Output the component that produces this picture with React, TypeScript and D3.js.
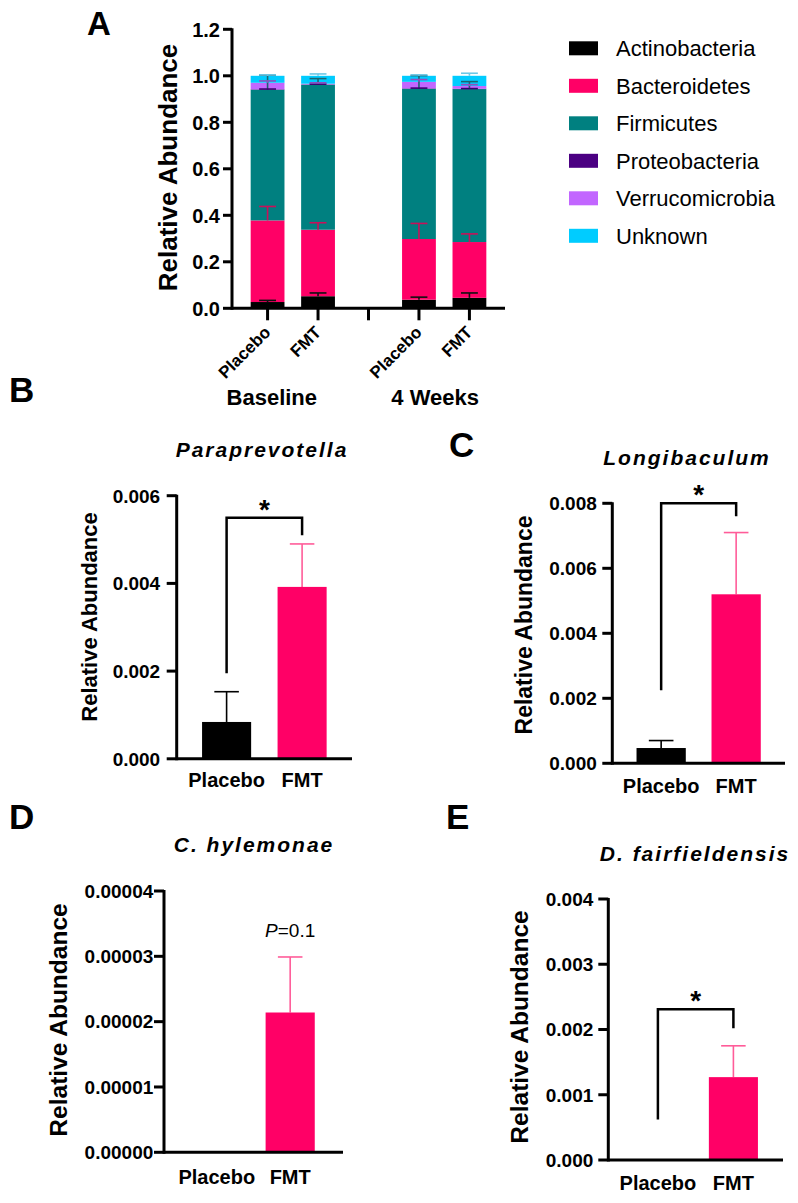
import React from 'react';
import * as d3 from 'd3';

const FONT = "'Liberation Sans', Arial, Helvetica, sans-serif";

// ---------- Panel A data ----------
const phyla = ['Actinobacteria', 'Bacteroidetes', 'Firmicutes', 'Proteobacteria', 'Verrucomicrobia', 'Unknown'];
const phylumColors = ['#000000', '#ff0066', '#008080', '#4b0082', '#c266ff', '#00ccff'];
const phylumErrColors = ['#111111', '#c8105a', '#1d6470', '#3a0070', '#8e4fc0', '#6cc8e6'];
const groupsA = ['Placebo', 'FMT', 'Placebo', 'FMT'];
const timepoints = ['Baseline', '4 Weeks'];
const slotsA = ['Baseline-Placebo', 'Baseline-FMT', 'gap', '4 Weeks-Placebo', '4 Weeks-FMT'];
const dataSlotsA = ['Baseline-Placebo', 'Baseline-FMT', '4 Weeks-Placebo', '4 Weeks-FMT'];

const actinobacteria = [0.027, 0.052, 0.037, 0.045];
const bacteroidetes = [0.351, 0.286, 0.261, 0.24];
const firmicutes = [0.562, 0.624, 0.646, 0.658];
const proteobacteria = [0.002, 0.001, 0.002, 0.001];
const verrucomicrobia = [0.028, 0.003, 0.028, 0.012];
const unknown = [0.03, 0.034, 0.026, 0.044];

const actinobacteriaSD = [0.007, 0.014, 0.011, 0.021];
const bacteroidetesSD = [0.06, 0.03, 0.067, 0.035];
const firmicutesSD = [0.063, 0.026, 0.057, 0.032];
const proteobacteriaSD = [0.001, 0.001, 0.001, 0.001];
const verrucomicrobiaSD = [0.008, 0.004, 0.01, 0.006];
const unknownSD = [0.004, 0.008, 0.004, 0.011];

const ticksA = [0, 0.2, 0.4, 0.6, 0.8, 1.0, 1.2];

// ---------- Panels B-E data ----------
const groups = ['Placebo', 'FMT'];
const groupColors = ['#000000', '#ff0066'];
const groupErrColors = ['#000000', '#ff5c99'];

const paraprevotellaMean = [0.00084, 0.00392];
const paraprevotellaSD = [0.00069, 0.00098];
const paraprevotellaBracket = [0.00195, 0.0055, 0.0051];
const ticksB = [0, 0.002, 0.004, 0.006];

const longibaculumMean = [0.00047, 0.0052];
const longibaculumSD = [0.00023, 0.0019];
const longibaculumBracket = [0.00225, 0.008, 0.0076];
const ticksC = [0, 0.002, 0.004, 0.006, 0.008];

const hylemonaeMean = [0, 0.0000214];
const hylemonaeSD = [0, 0.0000085];
const ticksD = [0, 0.00001, 0.00002, 0.00003, 0.00004];

const fairfieldensisMean = [0, 0.00127];
const fairfieldensisSD = [0, 0.00048];
const fairfieldensisBracket = [0.00062, 0.00231, 0.00202];
const ticksE = [0, 0.001, 0.002, 0.003, 0.004];

const AXIS_W = 3;

function PanelA() {
  const x = d3.scaleBand().domain(slotsA).range([232, 505]).paddingInner(0.33).paddingOuter(0.37);
  const y = d3.scaleLinear().domain([0, 1.2]).range([308.3, 29.3]);
  const seriesValues = [actinobacteria, bacteroidetes, firmicutes, proteobacteria, verrucomicrobia, unknown];
  const seriesSD = [actinobacteriaSD, bacteroidetesSD, firmicutesSD, proteobacteriaSD, verrucomicrobiaSD, unknownSD];
  const rows = dataSlotsA.map((s, i) => {
    const r: any = { slot: s };
    phyla.forEach((p, k) => (r[p] = seriesValues[k][i]));
    return r;
  });
  const stacked = d3.stack().keys(phyla)(rows);
  const bw = x.bandwidth();
  const y0 = y(0);
  const cx = (s: string) => (x(s) as number) + bw / 2;
  return (
    <g>
      <text x={87} y={35} fontSize={33} fontWeight="bold" fontFamily={FONT}>A</text>
      {stacked.map((layer, k) => (
        <g key={phyla[k]} fill={phylumColors[k]}>
          {layer.map((d, i) => (
            <rect key={i} x={x(dataSlotsA[i])} width={bw} y={y(d[1])} height={Math.max(0, y(d[0]) - y(d[1]))} />
          ))}
        </g>
      ))}
      {stacked.map((layer, k) => (
        <g key={'e' + phyla[k]} stroke={phylumErrColors[k]} strokeWidth={1.6}>
          {layer.map((d, i) => {
            const c = cx(dataSlotsA[i]);
            const top = y(d[1] + seriesSD[k][i]);
            return (
              <g key={i}>
                <line x1={c} x2={c} y1={y(d[1])} y2={top} />
                <line x1={c - bw / 4} x2={c + bw / 4} y1={top} y2={top} />
              </g>
            );
          })}
        </g>
      ))}
      <g stroke="#000" strokeWidth={AXIS_W} fill="none">
        <line x1={232} x2={232} y1={y(1.2) - 1} y2={y0 + 1.5} />
        <line x1={232} x2={505} y1={y0} y2={y0} />
        {ticksA.map((t) => (
          <line key={t} x1={223} x2={232} y1={y(t)} y2={y(t)} />
        ))}
        {slotsA.map((s) => (
          <line key={s} x1={cx(s)} x2={cx(s)} y1={y0} y2={y0 + 12} />
        ))}
      </g>
      {ticksA.map((t) => (
        <text key={t} x={220} y={y(t)} dy="0.36em" textAnchor="end" fontSize={20} fontWeight="bold" fontFamily={FONT}>
          {t.toFixed(1)}
        </text>
      ))}
      {dataSlotsA.map((s, i) => (
        <text key={s} transform={`translate(${cx(s) + 4},${y0 + 25}) rotate(-45)`} textAnchor="end" fontSize={17} fontWeight="bold" fontFamily={FONT}>
          {groupsA[i]}
        </text>
      ))}
      {timepoints.map((tp, j) => {
        const mid = (cx(dataSlotsA[j * 2]) + cx(dataSlotsA[j * 2 + 1])) / 2;
        const off = j === 0 ? -21 : -9;
        return (
          <text key={tp} x={mid + off} y={405} textAnchor="middle" fontSize={22} fontWeight="bold" fontFamily={FONT}>
            {tp}
          </text>
        );
      })}
      <text transform={`translate(177,167.5) rotate(-90)`} textAnchor="middle" fontSize={26} fontWeight="bold" fontFamily={FONT}>
        Relative Abundance
      </text>
      {phyla.map((p, k) => {
        const cy = 48.3 + k * 37.5;
        return (
          <g key={p}>
            <rect x={569} y={cy - 7} width={29} height={14} fill={phylumColors[k]} />
            <text x={616} y={cy + 8} fontSize={22} fontFamily={FONT}>{p}</text>
          </g>
        );
      })}
    </g>
  );
}

type PanelProps = {
  letter: string; letterX: number; letterY: number;
  title: string; titleX: number; titleY: number; titleSpacing: number;
  axisX: number; axisEnd: number; yZero: number; yTop: number; max: number;
  ticks: number[]; decimals: number; labelGap: number;
  ylabelX: number; ylabelY: number; ylabelSize: number;
  xLabelY: number; pi: number; po: number;
  means: number[]; sds: number[];
  bracket?: number[];
  note?: boolean;
};

function Panel(p: PanelProps) {
  const x = d3.scaleBand().domain(groups).range([p.axisX, p.axisEnd]).paddingInner(p.pi).paddingOuter(p.po);
  const y = d3.scaleLinear().domain([0, p.max]).range([p.yZero, p.yTop]);
  const bw = x.bandwidth();
  const cx = (g: string) => (x(g) as number) + bw / 2;
  const capW = bw / 2;
  return (
    <g>
      <text x={p.letterX} y={p.letterY} fontSize={35} fontWeight="bold" fontFamily={FONT}>{p.letter}</text>
      <text x={p.titleX} y={p.titleY} textAnchor="middle" fontSize={21} fontWeight="bold" fontStyle="italic" letterSpacing={p.titleSpacing} fontFamily={FONT}>
        {p.title}
      </text>
      {groups.map((g, i) => (
        <g key={g}>
          {p.means[i] > 0 && (
            <g stroke={groupErrColors[i]} strokeWidth={1.6}>
              <line x1={cx(g)} x2={cx(g)} y1={y(p.means[i])} y2={y(p.means[i] + p.sds[i])} />
              <line x1={cx(g) - capW / 2} x2={cx(g) + capW / 2} y1={y(p.means[i] + p.sds[i])} y2={y(p.means[i] + p.sds[i])} />
            </g>
          )}
          <rect x={x(g)} width={bw} y={y(p.means[i])} height={y(0) - y(p.means[i])} fill={groupColors[i]} />
        </g>
      ))}
      {p.bracket && (
        <g>
          <path
            d={`M${cx('Placebo')},${y(p.bracket[0])}V${y(p.bracket[1])}H${cx('FMT')}V${y(p.bracket[2])}`}
            fill="none" stroke="#000" strokeWidth={2.5}
          />
          <text x={(cx('Placebo') + cx('FMT')) / 2} y={y(p.bracket[1]) + 1} textAnchor="middle" fontSize={28} fontWeight="bold" fontFamily={FONT}>*</text>
        </g>
      )}
      {p.note && (
        <text x={cx('FMT')} y={y(p.means[1] + p.sds[1]) - 20} textAnchor="middle" fontSize={19} fontFamily={FONT}>
          <tspan fontStyle="italic">P</tspan>=0.1
        </text>
      )}
      <g stroke="#000" strokeWidth={AXIS_W} fill="none">
        <line x1={p.axisX} x2={p.axisX} y1={p.yTop - 1} y2={p.yZero + 1.5} />
        <line x1={p.axisX} x2={p.axisEnd} y1={p.yZero} y2={p.yZero} />
        {p.ticks.map((t) => (
          <line key={t} x1={p.axisX - 10} x2={p.axisX} y1={y(t)} y2={y(t)} />
        ))}
      </g>
      {p.ticks.map((t) => (
        <text key={t} x={p.axisX - p.labelGap} y={y(t)} dy="0.36em" textAnchor="end" fontSize={19} fontWeight="bold" fontFamily={FONT}>
          {t.toFixed(p.decimals)}
        </text>
      ))}
      {groups.map((g) => (
        <text key={g} x={cx(g)} y={p.xLabelY} textAnchor="middle" fontSize={20} fontWeight="bold" fontFamily={FONT}>{g}</text>
      ))}
      <text transform={`translate(${p.ylabelX},${p.ylabelY}) rotate(-90)`} textAnchor="middle" fontSize={p.ylabelSize} fontWeight="bold" fontFamily={FONT}>
        Relative Abundance
      </text>
    </g>
  );
}

export default function App() {
  return (
    <svg width={798} height={1203} style={{ position: 'absolute', left: 0, top: 0, background: '#fff' }}>
      <rect width={798} height={1203} fill="#fff" />
      <PanelA />
      <Panel
        letter="B" letterX={9} letterY={402}
        title="Paraprevotella" titleX={262} titleY={457} titleSpacing={2}
        axisX={176.7} axisEnd={352} yZero={758.8} yTop={495.7} max={0.006}
        ticks={ticksB} decimals={3} labelGap={16.5}
        ylabelX={97} ylabelY={617} ylabelSize={22}
        xLabelY={787} pi={0.35} po={0.336}
        means={paraprevotellaMean} sds={paraprevotellaSD} bracket={paraprevotellaBracket}
      />
      <Panel
        letter="C" letterX={449} letterY={457}
        title="Longibaculum" titleX={687} titleY={465} titleSpacing={2}
        axisX={612.3} axisEnd={785} yZero={763.3} yTop={503.3} max={0.008}
        ticks={ticksC} decimals={3} labelGap={15.5}
        ylabelX={532} ylabelY={625} ylabelSize={23}
        xLabelY={793} pi={0.343} po={0.323}
        means={longibaculumMean} sds={longibaculumSD} bracket={longibaculumBracket}
      />
      <Panel
        letter="D" letterX={9} letterY={829}
        title="C. hylemonae" titleX={254} titleY={852} titleSpacing={2}
        axisX={164} axisEnd={343} yZero={1152.3} yTop={891} max={0.00004}
        ticks={ticksD} decimals={5} labelGap={10.7}
        ylabelX={67} ylabelY={1020} ylabelSize={24.5}
        xLabelY={1184} pi={0.33} po={0.385}
        means={hylemonaeMean} sds={hylemonaeSD} note={true}
      />
      <Panel
        letter="E" letterX={446} letterY={829}
        title="D. fairfieldensis" titleX={695} titleY={861} titleSpacing={2}
        axisX={608.3} axisEnd={783} yZero={1160} yTop={899} max={0.004}
        ticks={ticksE} decimals={3} labelGap={15}
        ylabelX={528} ylabelY={1027} ylabelSize={24.5}
        xLabelY={1190} pi={0.35} po={0.332}
        means={fairfieldensisMean} sds={fairfieldensisSD} bracket={fairfieldensisBracket}
      />
    </svg>
  );
}
